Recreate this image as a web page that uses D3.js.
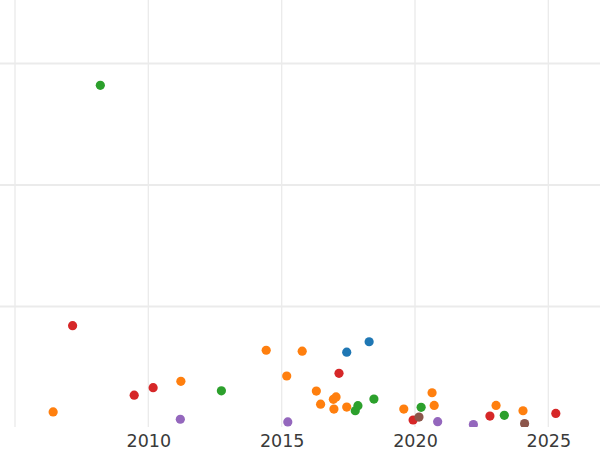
<!DOCTYPE html>
<html>
<head>
<meta charset="utf-8">
<script src="https://cdn.jsdelivr.net/npm/d3@7"></script>
<style>
  html, body { margin: 0; padding: 0; background: #fff; }
  svg { display: block; }
</style>
</head>
<body>
<svg id="chart" width="600" height="450"></svg>
<script>
// ---- data ----
const seriesNames = ["blue", "orange", "green", "red", "purple", "brown"];
const seriesColors = ["#1f77b4", "#ff7f0e", "#2ca02c", "#d62728", "#9467bd", "#8c564b"];

const blueYears = [2017.44, 2018.28];
const blueValues = [31.2, 35.5];

const orangeYears = [2006.43, 2011.22, 2014.42, 2015.77, 2015.19, 2016.30, 2016.46, 2016.94, 2017.04, 2016.96, 2017.44, 2019.58, 2020.64, 2020.72, 2023.04, 2024.05];
const orangeValues = [6.6, 19.2, 32.0, 31.6, 21.4, 15.2, 9.8, 11.8, 12.8, 7.8, 8.6, 7.8, 14.5, 9.3, 9.3, 7.1];

const greenYears = [2008.20, 2012.74, 2017.76, 2017.86, 2018.46, 2020.23, 2023.35];
const greenValues = [141.0, 15.3, 7.1, 9.2, 11.9, 8.5, 5.2];

const redYears = [2007.16, 2009.47, 2010.18, 2017.15, 2019.93, 2022.81, 2025.28];
const redValues = [42.1, 13.5, 16.6, 22.5, 3.3, 4.9, 6.0];

const purpleYears = [2011.20, 2015.23, 2020.85, 2022.19];
const purpleValues = [3.6, 2.5, 2.6, 1.4];

const brownYears = [2020.15, 2024.11];
const brownValues = [4.5, 1.8];

const xTicks = [2005, 2010, 2015, 2020, 2025];
const xTickLabels = ["", "2010", "2015", "2020", "2025"];
const yTicks = [50, 100, 150];

// ---- build ----
const seriesYears = [blueYears, orangeYears, greenYears, redYears, purpleYears, brownYears];
const seriesValues = [blueValues, orangeValues, greenValues, redValues, purpleValues, brownValues];
const points = [];
seriesNames.forEach((name, i) => {
  seriesYears[i].forEach((yr, j) => {
    points.push({ series: name, color: seriesColors[i], x: yr, y: seriesValues[i][j] });
  });
});

const W = 600, H = 450;
const plot = { left: 0, right: 600, top: 0, bottom: 427 };

const x = d3.scaleLinear().domain([2005, 2025]).range([15, 548.33]);
const y = d3.scaleLinear().domain([0, 150]).range([428, 63.5]);

const svg = d3.select("#chart");

svg.append("defs").append("clipPath").attr("id", "clip")
  .append("rect")
  .attr("x", plot.left).attr("y", plot.top)
  .attr("width", plot.right - plot.left).attr("height", plot.bottom - plot.top);

const grid = svg.append("g").attr("clip-path", "url(#clip)");

grid.selectAll("line.hg").data(yTicks).enter().append("line")
  .attr("class", "hg")
  .attr("x1", plot.left).attr("x2", plot.right)
  .attr("y1", d => y(d)).attr("y2", d => y(d))
  .attr("stroke", "#ebebeb").attr("stroke-width", 1.8);

grid.selectAll("line.vg").data(xTicks).enter().append("line")
  .attr("class", "vg")
  .attr("x1", d => x(d)).attr("x2", d => x(d))
  .attr("y1", plot.top).attr("y2", plot.bottom)
  .attr("stroke", "#ebebeb").attr("stroke-width", 1.4);

const dots = svg.append("g").attr("clip-path", "url(#clip)");
dots.selectAll("circle").data(points).enter().append("circle")
  .attr("cx", d => x(d.x))
  .attr("cy", d => y(d.y))
  .attr("r", 4.6)
  .attr("fill", d => d.color);

// x axis labels (no domain line, no tick marks)
const xAxis = d3.axisBottom(x)
  .tickValues(xTicks)
  .tickFormat((d, i) => xTickLabels[i])
  .tickSize(0)
  .tickPadding(8);

const ax = svg.append("g")
  .attr("transform", `translate(0,${plot.bottom})`)
  .call(xAxis);
ax.select(".domain").remove();
ax.selectAll("text")
  .attr("font-family", "DejaVu Sans, sans-serif")
  .attr("font-size", 17.5)
  .attr("fill", "#3a3a3a");
</script>
</body>
</html>
